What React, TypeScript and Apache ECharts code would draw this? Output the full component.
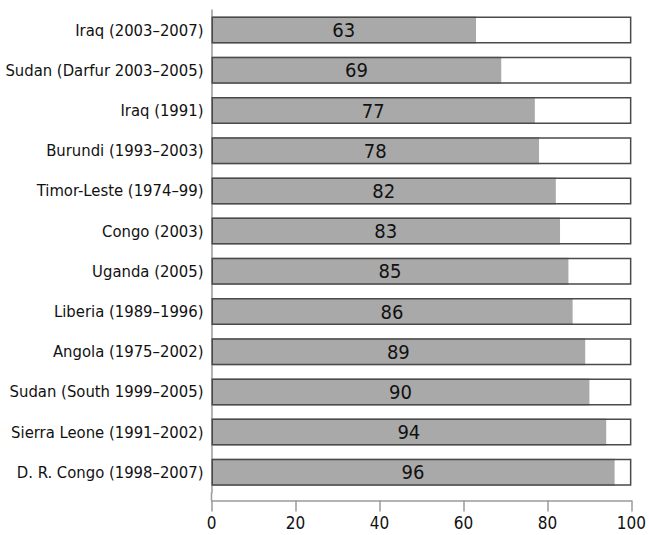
import React, { useEffect, useRef } from "react";
import * as echarts from "echarts";

const categories = [
  "Iraq (2003–2007)",
  "Sudan (Darfur 2003–2005)",
  "Iraq (1991)",
  "Burundi (1993–2003)",
  "Timor-Leste (1974–99)",
  "Congo (2003)",
  "Uganda (2005)",
  "Liberia (1989–1996)",
  "Angola (1975–2002)",
  "Sudan (South 1999–2005)",
  "Sierra Leone (1991–2002)",
  "D. R. Congo (1998–2007)",
];
const values = [63, 69, 77, 78, 82, 83, 85, 86, 89, 90, 94, 96];
const totals = categories.map(() => 100);
const xTicks = [0, 20, 40, 60, 80, 100];

const FONT = "'DejaVu Sans Condensed', 'Liberation Sans Narrow', sans-serif";

export default function App() {
  const ref = useRef<HTMLDivElement>(null);
  useEffect(() => {
    if (!ref.current) return;
    const chart = echarts.init(ref.current, undefined, { renderer: "svg" });
    const gridLeft = 211.5;
    const gridTop = 10;
    const gridBottom = 42.6;
    chart.setOption({
      animation: false,
      backgroundColor: "#ffffff",
      grid: { left: gridLeft, right: 16.5, top: gridTop, bottom: gridBottom, containLabel: false },
      xAxis: {
        type: "value",
        min: xTicks[0],
        max: xTicks[xTicks.length - 1],
        interval: 20,
        offset: 8,
        splitLine: { show: false },
        axisLine: { show: true, lineStyle: { color: "#9a9a9a", width: 1.5 } },
        axisTick: { show: true, length: 11, lineStyle: { color: "#9a9a9a", width: 1.5 } },
        axisLabel: { color: "#111", fontFamily: FONT, fontSize: 17, margin: 14 },
      },
      yAxis: {
        type: "category",
        data: categories,
        inverse: true,
        axisLine: { show: true, lineStyle: { color: "#9a9a9a", width: 1.5 } },
        axisTick: { show: false },
        axisLabel: { color: "#111", fontFamily: FONT, fontSize: 16.5, margin: 8 },
      },
      graphic: [
        {
          type: "line",
          shape: { x1: gridLeft, y1: 535 - gridBottom, x2: gridLeft, y2: 535 - gridBottom + 8 },
          style: { stroke: "#9a9a9a", lineWidth: 1.5 },
          silent: true,
        },
      ],
      series: [
        {
          type: "bar",
          data: values,
          barWidth: 27,
          barGap: "-100%",
          itemStyle: { color: "#a9a9a9" },
          label: {
            show: true,
            position: "inside",
            color: "#111",
            fontFamily: FONT,
            fontSize: 20,
          },
          z: 2,
        },
        {
          type: "bar",
          data: totals,
          barWidth: 27,
          barGap: "-100%",
          itemStyle: { color: "rgba(0,0,0,0)", borderColor: "#4a4a4a", borderWidth: 1.5 },
          silent: true,
          z: 3,
        },
      ],
    });
    return () => chart.dispose();
  }, []);
  return (
    <div
      ref={ref}
      style={{ position: "fixed", left: 0, top: 0, width: 649, height: 535, background: "#fff" }}
    />
  );
}
